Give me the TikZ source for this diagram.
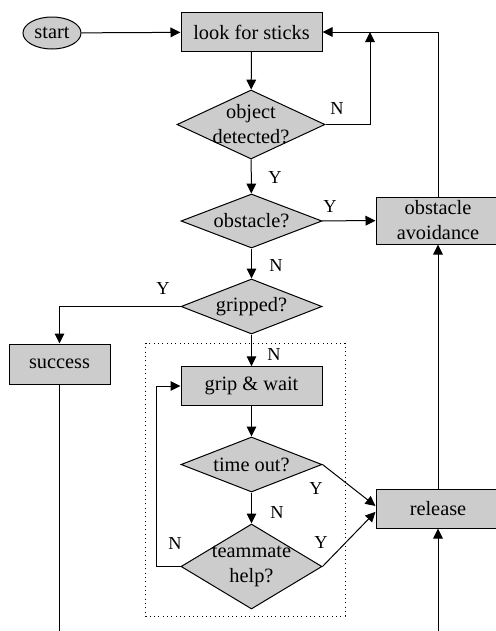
\documentclass[tikz,border=0pt]{standalone}
\usepackage{fontspec}
\setmainfont{Liberation Serif}
\usetikzlibrary{arrows.meta,positioning,shapes.geometric}

\begin{document}
\begin{tikzpicture}[x=0.6pt,y=-0.6pt,>={Triangle[length=6pt,width=5.8pt]},line width=0.6pt,
  every node/.style={font=\fontsize{12.2}{15}\selectfont},
  block/.style={rectangle,draw,fill=gray!40,inner sep=0pt,minimum width=84.6pt,minimum height=23.4pt,align=center},
  decision/.style={diamond,draw,fill=gray!40,inner sep=0pt,minimum width=84.6pt,minimum height=33pt},
  terminal/.style={ellipse,draw,fill=gray!40,inner sep=0pt,minimum width=34.8pt,minimum height=19.2pt},
  yn/.style={inner sep=0pt,font=\fontsize{11}{13}\selectfont}]
  \useasboundingbox (0,0) rectangle (496,631);
  % main column
  \node[terminal]                                   (start)   at (52,33)     {start};
  \node[block]                                      (look)    at (251.5,32)  {look for sticks};
  \node[decision,minimum width=88.8pt,minimum height=41.4pt,
        label={[align=center]center:object\\detected?}] (detect)  at (251,124.5) {};
  \node[decision,minimum height=32.4pt,label=center:obstacle?] (obst) at (251.5,221) {};
  \node[block,minimum width=74.4pt,minimum height=28.2pt] (avoid) at (438,220.5) {obstacle\\avoidance};
  \node[decision,label=center:gripped?]             (gripped) at (251.5,306.5) {};
  \node[block,minimum width=60.6pt,minimum height=24pt] (success) at (59.5,364) {success};
  \node[block,minimum height=23.1pt]                (grip)    at (251.5,386) {grip \& wait};
  \node[decision,label=center:time out?]            (timeout) at (251.5,464.5) {};
  \node[decision,minimum height=51pt,
        label={[align=center]center:teammate\\help?}] (help)   at (251.5,566.5) {};
  \node[block,minimum width=74.4pt]                 (release) at (438,508.5) {release};
  % loose ends and joints
  \coordinate (nJoin)   at (370,32);
  \coordinate (sucEnd)  at (59.5,631);
  \coordinate (relFrom) at (438,631);
  % dotted frame round the grip loop
  \draw[dotted] (145.5,343) rectangle (345,616);
  % connectors
  \draw[->] (start) -- (look);
  \draw[->] (look) -- (detect);
  \draw[->] (detect.east) -| (nJoin);
  \draw[->] (avoid.north) |- (look.east);
  \draw[->] (detect) -- (obst);
  \draw[->] (obst) -- (avoid);
  \draw[->] (obst) -- (gripped);
  \draw[->] (gripped.west) -| (success.north);
  \draw (success) -- (sucEnd);
  \draw[->] (gripped) -- (grip);
  \draw[->] (grip) -- (timeout);
  \draw[->] (timeout) -- (help);
  \draw[->] (help.west) -- ++(-24,0) |- (grip.west);
  \draw[->] (timeout.east) -- ([yshift=1.5pt]release.west);
  \draw[->] (help.east) -- ([yshift=-2pt]release.west);
  \draw[->] (relFrom) -- (release);
  \draw[->] (release) -- (avoid);
  % Y / N labels
  \node[yn] (nDetect)  at (337,108) {N};
  \node[yn] (yDetect)  at (275,177) {Y};
  \node[yn] (yObst)    at (330,206) {Y};
  \node[yn] (nObst)    at (276,265) {N};
  \node[yn] (yGripped) at (163,288) {Y};
  \node[yn] (nGripped) at (274,354) {N};
  \node[yn] (yTimeout) at (316,488) {Y};
  \node[yn] (nTimeout) at (277,512) {N};
  \node[yn] (yHelp)    at (321,542) {Y};
  \node[yn] (nHelp)    at (175,543) {N};
\end{tikzpicture}
\end{document}
